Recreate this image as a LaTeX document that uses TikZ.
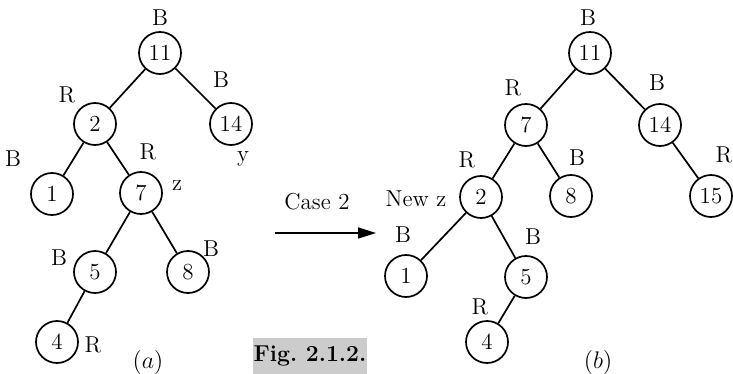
\documentclass[tikz,border=0pt]{standalone}
\usetikzlibrary{arrows.meta}
\definecolor{figgray}{RGB}{204,204,204}
\begin{document}
\begin{tikzpicture}[x=0.5pt,y=-0.5pt,
  every node/.style={font=\fontsize{11.5}{13}\selectfont},
  tnode/.style={circle,draw,line width=0.85pt,minimum size=21pt,inner sep=0pt},
  lbl/.style={inner sep=0pt},
  edge/.style={line width=0.85pt}]
\useasboundingbox (0,0) rectangle (733,374);
% ---------- tree (a)
\node[tnode] (a11) at (160,53) {11};
\node[tnode] (a2) at (95,124) {2};
\node[tnode] (a14) at (231,124) {14};
\node[tnode] (a1) at (52,194) {1};
\node[tnode] (a7) at (141,193) {7};
\node[tnode] (a5) at (95,272) {5};
\node[tnode] (a8) at (188,272) {8};
\node[tnode] (a4) at (57,342) {4};
\draw[edge] (a11) -- (a2);
\draw[edge] (a11) -- (a14);
\draw[edge] (a2) -- (a1);
\draw[edge] (a2) -- (a7);
\draw[edge] (a7) -- (a5);
\draw[edge] (a7) -- (a8);
\draw[edge] (a5) -- (a4);
\node[lbl] (la11) at (160,18) {B};
\node[lbl] (la2) at (67,95) {R};
\node[lbl] (la14) at (221,80) {B};
\node[lbl] (lay) at (243,159) {y};
\node[lbl] (la1) at (13,159) {B};
\node[lbl] (la7) at (148,152) {R};
\node[lbl] (laz) at (177,186) {z};
\node[lbl] (la5) at (59,258) {B};
\node[lbl] (la8) at (211,249) {B};
\node[lbl] (la4) at (93,345) {R};
\node[lbl] (capa) at (148,362) {$(a)$};
% ---------- arrow
\coordinate (arS) at (275,233);
\coordinate (arE) at (376,233);
\draw[edge,-{Triangle[length=9pt,width=5.5pt]}] (arS) -- (arE);
\node[lbl] (case) at (317,202) {Case 2};
\node[fill=figgray,minimum width=57pt,minimum height=18pt,inner sep=0pt,font=\fontsize{11.5}{13}\selectfont\bfseries] (fig) at (310,356) {Fig.\ 2.1.2.};
% ---------- tree (b)
\node[tnode] (b11) at (590,53) {11};
\node[tnode] (b7) at (526,125) {7};
\node[tnode] (b14) at (660,125) {14};
\node[tnode] (b2) at (481,197) {2};
\node[tnode] (b8) at (571,196) {8};
\node[tnode] (b15) at (711,196) {15};
\node[tnode] (b1) at (406,276) {1};
\node[tnode] (b5) at (526,277) {5};
\node[tnode] (b4) at (487,342) {4};
\draw[edge] (b11) -- (b7);
\draw[edge] (b11) -- (b14);
\draw[edge] (b7) -- (b2);
\draw[edge] (b7) -- (b8);
\draw[edge] (b14) -- (b15);
\draw[edge] (b2) -- (b1);
\draw[edge] (b2) -- (b5);
\draw[edge] (b5) -- (b4);
\node[lbl] (lb11) at (588,18) {B};
\node[lbl] (lb7) at (513,88) {R};
\node[lbl] (lb14) at (657,83) {B};
\node[lbl] (lb2) at (467,160) {R};
\node[lbl] (lb8) at (577,158) {B};
\node[lbl] (lb15) at (724,155) {R};
\node[lbl] (lnewz) at (416,199) {New z};
\node[lbl] (lb1) at (403,235) {B};
\node[lbl] (lb5) at (533,237) {B};
\node[lbl] (lb4) at (480,307) {R};
\node[lbl] (capb) at (598,362) {$(b)$};
\end{tikzpicture}
\end{document}
